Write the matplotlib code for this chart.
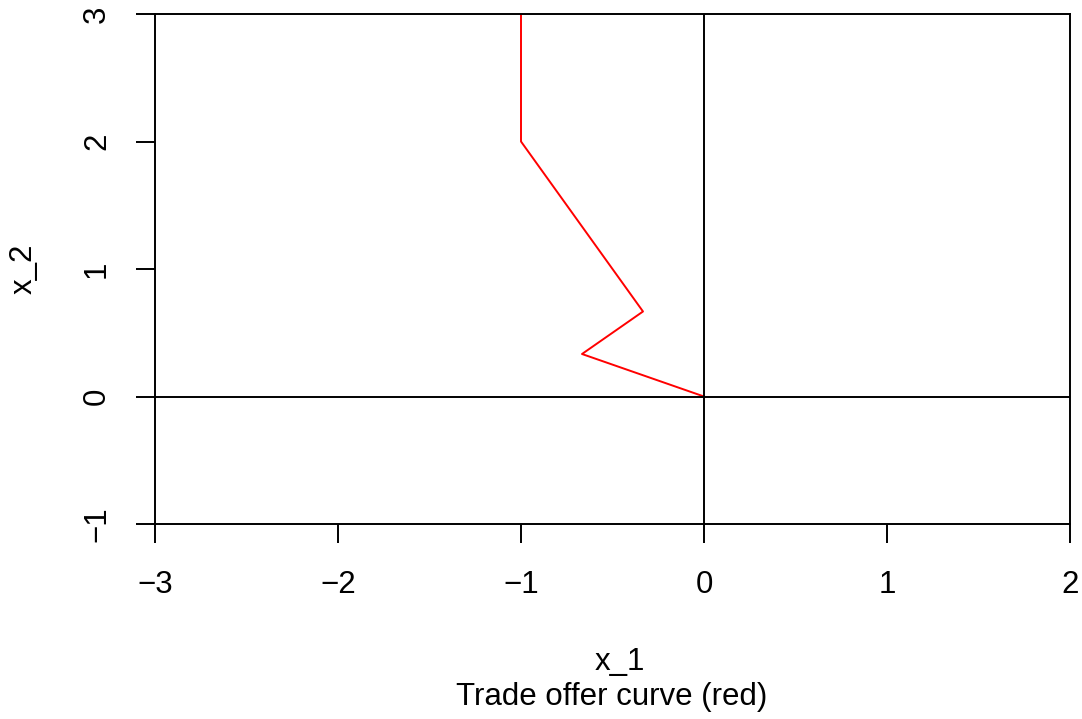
import matplotlib
matplotlib.use('Agg')
import matplotlib.pyplot as plt

plt.rcParams['font.family'] = ['Liberation Sans', 'DejaVu Sans']

# trade offer curve points
x1 = [0, -2/3, -1/3, -1, -1]
x2 = [0, 1/3, 2/3, 2, 3]
xticks = [-3, -2, -1, 0, 1, 2]
yticks = [-1, 0, 1, 2, 3]

W, H = 1082, 719
fig = plt.figure(figsize=(W/100, H/100), dpi=100)
ax = fig.add_axes([155/W, 1 - 524/H, (1070 - 155)/W, (524 - 14)/H])

ax.plot(x1, x2, color='#FF0000', lw=1.4)
ax.axhline(0, color='black', lw=1.4)
ax.axvline(0, color='black', lw=1.4)

ax.set_xlim(-3, 2)
ax.set_ylim(-1, 3)
ax.set_xticks(xticks)
ax.set_yticks(yticks)
ax.set_xticklabels(['\u2212' + str(-v) if v < 0 else str(v) for v in xticks])
ax.set_yticklabels(['\u2212' + str(-v) if v < 0 else str(v) for v in yticks],
                   rotation=90, va='center')
for s in ax.spines.values():
    s.set_linewidth(1.4)
ax.tick_params(axis='both', direction='out', length=14, width=1.4,
               labelsize=22.5, pad=19)
ax.tick_params(axis='y', pad=17)

fig.text(620/W, 1 - 662/H, 'x_1', ha='center', va='center', fontsize=22.5)
fig.text(612/W, 1 - 697/H, 'Trade offer curve (red)', ha='center', va='center', fontsize=22.5)
fig.text(24/W, 1 - 269/H, 'x_2', ha='center', va='center', fontsize=22.5, rotation=90)

fig.savefig('out.png', dpi=100)
